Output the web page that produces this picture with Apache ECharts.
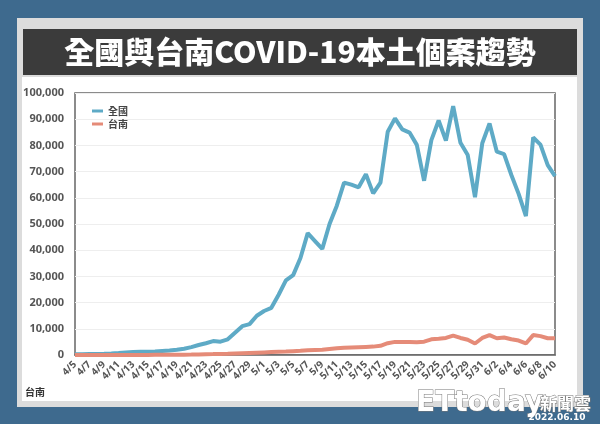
<!DOCTYPE html>
<html>
<head>
<meta charset="utf-8">
<script src="https://cdn.jsdelivr.net/npm/echarts@6/dist/echarts.min.js"></script>
<style>
html,body{margin:0;padding:0;background:#3e6a8e;}
#c{width:600px;height:424px;}
</style>
</head>
<body>
<div id="c"></div>
<script>
const dates = ['4/5','4/6','4/7','4/8','4/9','4/10','4/11','4/12','4/13','4/14','4/15','4/16','4/17','4/18','4/19','4/20','4/21','4/22','4/23','4/24','4/25','4/26','4/27','4/28','4/29','4/30',
'5/1','5/2','5/3','5/4','5/5','5/6','5/7','5/8','5/9','5/10','5/11','5/12','5/13','5/14','5/15','5/16','5/17','5/18','5/19','5/20','5/21','5/22','5/23','5/24','5/25','5/26','5/27','5/28','5/29','5/30','5/31',
'6/1','6/2','6/3','6/4','6/5','6/6','6/7','6/8','6/9','6/10'];

const national = [250,320,380,400,450,550,740,1000,1150,1200,1250,1300,1500,1700,2000,2400,3000,3800,4500,5300,
5100,6000,8500,11000,11800,15000,16800,18000,23000,28500,30500,37000,46500,43500,40500,
50000,57000,65800,65000,64000,69000,61700,65800,85200,90300,86100,84900,80200,66500,
82000,89500,81800,95000,81000,76300,60200,80800,88400,77600,76700,68700,61500,53000,83000,80300,72500,68300];

const tainan = [5,5,8,10,12,15,20,25,30,35,40,50,60,80,100,
130,170,220,280,340,420,500,600,700,800,900,
1000,1100,1200,1300,1450,1600,1800,1900,2000,2300,2600,2800,2900,3000,3100,3200,3500,
4500,5000,5000,5000,4900,5100,6000,6200,6500,7400,6500,5800,4400,6500,7600,6400,6700,6000,5500,4400,7600,7200,6400,6400];

const seriesNames = ['全國','台南'];
const titleText = '全國與台南COVID-19本土個案趨勢';

const chart = echarts.init(document.getElementById('c'));
chart.setOption({
  backgroundColor: '#3e6a8e',
  animation: false,
  graphic: [
    {type:'rect', z:-10, shape:{x:17,y:18,width:566,height:389}, style:{fill:'#dcdcdc'}},
    {type:'rect', z:-9, shape:{x:22,y:77,width:555,height:324}, style:{fill:'#ffffff'}},
    {type:'rect', z:-9, shape:{x:23,y:29,width:554,height:46}, style:{fill:'#3b3b3b'}},
    {type:'text', z:10, x:300, y:52, style:{text:titleText, fill:'#ffffff', font:'900 30px "Noto Sans CJK TC"', textAlign:'center', textVerticalAlign:'middle'}},
    {type:'text', z:10, x:25, y:392, style:{text:'台南', fill:'#333', font:'bold 10px "Noto Sans CJK TC"', textAlign:'left', textVerticalAlign:'middle'}},
    {type:'text', z:10, x:416, y:404, style:{text:'ETtoday', fill:'#ffffff', stroke:'#777', lineWidth:1, font:'bold 28px "DejaVu Sans"', textAlign:'left', textVerticalAlign:'middle'}},
    {type:'text', z:10, x:540, y:404, style:{text:'新聞雲', fill:'#ffffff', stroke:'#777', lineWidth:1, font:'bold 17px "Noto Sans CJK TC"', textAlign:'left', textVerticalAlign:'middle'}},
    {type:'text', z:10, x:557, y:418, style:{text:'2022.06.10', fill:'#ffffff', font:'bold 9px "DejaVu Sans"', textAlign:'center', textVerticalAlign:'middle'}}
  ],
  grid: {left:75, right:45, top:93, bottom:69, show:true, borderColor:'#666', borderWidth:1.5, backgroundColor:'transparent'},
  legend: {
    orient:'vertical', left:92, top:106, itemGap:3, itemWidth:11, itemHeight:3, icon:'rect', padding:0,
    textStyle:{fontSize:10, fontWeight:'bold', color:'#444', fontFamily:'"Noto Sans CJK TC"'},
    data: seriesNames
  },
  xAxis: {
    type:'category', data:dates, boundaryGap:false,
    axisLine:{show:true, lineStyle:{color:'#666', width:1.5}},
    axisTick:{show:false},
    axisLabel:{interval:1, rotate:45, fontSize:10, fontWeight:'bold', color:'#555', margin:8, fontFamily:'"Noto Sans", sans-serif'},
    splitLine:{show:false}
  },
  yAxis: {
    type:'value', min:0, max:100000, interval:10000,
    axisLine:{show:false}, axisTick:{show:false},
    axisLabel:{fontSize:11, fontWeight:'bold', color:'#555', margin:11, fontFamily:'"Noto Sans", sans-serif',
      formatter: v => v.toLocaleString('en-US')},
    splitLine:{lineStyle:{color:'#eeeeee', width:1}}
  },
  series: [
    {name:seriesNames[0], type:'line', data:national, showSymbol:false, symbol:'none', lineStyle:{color:'#5eaac6', width:4}, itemStyle:{color:'#5eaac6'}, z:3},
    {name:seriesNames[1], type:'line', data:tainan, showSymbol:false, symbol:'none', lineStyle:{color:'#e58b78', width:4}, itemStyle:{color:'#e58b78'}, z:4}
  ]
});
</script>
</body>
</html>
